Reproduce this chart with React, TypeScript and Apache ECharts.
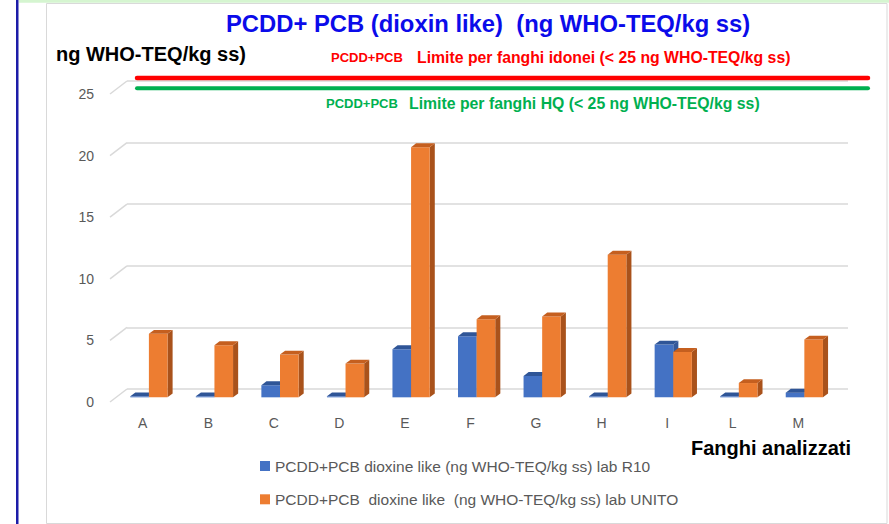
import React, { useEffect, useRef } from "react";
import * as echarts from "echarts";

const categories = ["A", "B", "C", "D", "E", "F", "G", "H", "I", "L", "M"];
const r10Values = [0.08, 0.08, 0.98, 0.08, 3.9, 4.96, 1.73, 0.08, 4.28, 0.08, 0.38];
const unitoValues = [5.15, 4.23, 3.47, 2.74, 20.3, 6.34, 6.56, 11.58, 3.68, 1.16, 4.69];
const yTicks = [0, 5, 10, 15, 20, 25];
const limitIdonei = [25];
const limitHQ = [25];
const seriesNames = [
  "PCDD+PCB dioxine like (ng WHO-TEQ/kg ss) lab R10",
  "PCDD+PCB  dioxine like  (ng WHO-TEQ/kg ss) lab UNITO",
];

const DX = 17;
const DY = -13;
const FONT = "'Liberation Sans', Arial, sans-serif";

function barRenderer(side: number, front: string, top: string, sideColor: string) {
  return (params: any, api: any) => {
    const idx = api.value(0);
    const v = api.value(1);
    const base = api.coord([idx, 0]);
    const tip = api.coord([idx, v]);
    const band = api.size([1, 0])[0];
    const w = band * 0.284;
    const ox = DX * 0.36;
    const oy = DY * 0.36;
    const cx = DX * 0.3;
    const cy = DY * 0.3;
    const x0 = base[0] + ox + (side < 0 ? -w : 0);
    const x1 = x0 + w;
    const yb = base[1] + oy;
    const yt = tip[1] + oy;
    return {
      type: "group",
      children: [
        {
          type: "polygon",
          shape: { points: [[x1, yt], [x1 + cx, yt + cy], [x1 + cx, yb + cy], [x1, yb]] },
          style: { fill: sideColor },
        },
        {
          type: "rect",
          shape: { x: x0, y: yt, width: w, height: yb - yt },
          style: { fill: front },
        },
        {
          type: "polygon",
          shape: { points: [[x0, yt], [x1, yt], [x1 + cx, yt + cy], [x0 + cx, yt + cy]] },
          style: { fill: top },
        },
      ],
    };
  };
}

function limitRenderer(color: string, dy: number, width: number) {
  return (params: any, api: any) => {
    const y = api.coord([0, api.value(1)])[1] + dy;
    const cs = params.coordSys;
    return {
      type: "line",
      shape: { x1: cs.x + 10, y1: y, x2: cs.x + cs.width + 20, y2: y },
      style: { stroke: color, lineWidth: width, lineCap: "round" },
    };
  };
}

export default function App() {
  const ref = useRef<HTMLDivElement>(null);
  useEffect(() => {
    if (!ref.current) return;
    const chart = echarts.init(ref.current, undefined, { renderer: "svg" });
    const option: any = {
      animation: false,
      backgroundColor: "#ffffff",
      title: {
        text: "PCDD+ PCB (dioxin like)  (ng WHO-TEQ/kg ss)",
        left: 226,
        top: 11,
        padding: 0,
        textStyle: { fontSize: 23.8, fontWeight: "bold", color: "#0b0bea", fontFamily: FONT },
      },
      legend: {
        orient: "vertical",
        left: 260,
        top: 457.5,
        padding: 0,
        itemWidth: 10,
        itemHeight: 10,
        itemGap: 16.3,
        icon: "rect",
        data: seriesNames,
        textStyle: { fontSize: 15.5, color: "#595959", fontFamily: FONT, lineHeight: 17 },
      },
      grid: [
        { left: 127, right: 41, top: 81, bottom: 135 },
        { left: 110, right: 58, top: 94, bottom: 122 },
      ],
      xAxis: [
        { type: "category", gridIndex: 0, data: categories, show: false },
        {
          type: "category",
          gridIndex: 1,
          data: categories,
          axisLine: { show: false },
          axisTick: { show: false },
          axisLabel: { margin: 14, fontSize: 14, color: "#595959", fontFamily: FONT },
        },
      ],
      yAxis: [
        {
          type: "value",
          gridIndex: 0,
          min: 0,
          max: 25,
          interval: 5,
          axisLabel: { show: false },
          axisLine: { show: false },
          axisTick: { show: false },
          splitLine: { lineStyle: { color: "#d9d9d9", width: 1.5 } },
        },
        {
          type: "value",
          gridIndex: 1,
          min: 0,
          max: 25,
          interval: 5,
          axisLine: { show: false },
          axisTick: { show: false },
          splitLine: { show: false },
          axisLabel: { margin: 16, fontSize: 14, color: "#595959", fontFamily: FONT },
        },
      ],
      series: [
        {
          type: "custom",
          name: "ticks",
          xAxisIndex: 1,
          yAxisIndex: 1,
          silent: true,
          clip: false,
          data: yTicks.map((v) => [0, v]),
          encode: { x: 0, y: 1 },
          renderItem: (params: any, api: any) => {
            const p = api.coord([0, api.value(1)]);
            const band = api.size([1, 0])[0];
            const left = p[0] - band / 2;
            return {
              type: "line",
              shape: { x1: left, y1: p[1], x2: left + DX, y2: p[1] + DY },
              style: { stroke: "#d9d9d9", lineWidth: 1.5 },
            };
          },
        },
        {
          type: "custom",
          name: seriesNames[0],
          xAxisIndex: 1,
          yAxisIndex: 1,
          clip: false,
          itemStyle: { color: "#4472c4" },
          data: r10Values.map((v, i) => [i, v]),
          encode: { x: 0, y: 1 },
          renderItem: barRenderer(-1, "#4472c4", "#2f5597", "#34589a"),
        },
        {
          type: "custom",
          name: seriesNames[1],
          xAxisIndex: 1,
          yAxisIndex: 1,
          clip: false,
          itemStyle: { color: "#ed7d31" },
          data: unitoValues.map((v, i) => [i, v]),
          encode: { x: 0, y: 1 },
          renderItem: barRenderer(1, "#ed7d31", "#c55f1f", "#a9521b"),
        },
        {
          type: "custom",
          name: "limite idonei",
          xAxisIndex: 0,
          yAxisIndex: 0,
          silent: true,
          clip: false,
          z: 5,
          data: limitIdonei.map((v) => [0, v]),
          encode: { x: 0, y: 1 },
          renderItem: limitRenderer("#ff0000", -3, 4.5),
        },
        {
          type: "custom",
          name: "limite HQ",
          xAxisIndex: 0,
          yAxisIndex: 0,
          silent: true,
          clip: false,
          z: 5,
          data: limitHQ.map((v) => [0, v]),
          encode: { x: 0, y: 1 },
          renderItem: limitRenderer("#00b050", 7.3, 4),
        },
      ],
      graphic: [
        { type: "rect", z: -10, shape: { x: 19, y: 0, width: 870, height: 2.7 }, style: { fill: "#d5f5d0" } },
        { type: "rect", z: -10, shape: { x: 16, y: 0, width: 2.5, height: 524 }, style: { fill: "#1c1ca8" } },
        {
          type: "rect",
          z: -10,
          shape: { x: 46.5, y: 3.5, width: 840.5, height: 520 },
          style: { fill: "none", stroke: "#d9d9d9", lineWidth: 1 },
        },
        {
          type: "text",
          x: 56,
          y: 54,
          style: { text: "ng WHO-TEQ/kg ss)", fill: "#000", fontSize: 20, fontWeight: "bold", fontFamily: FONT, verticalAlign: "middle" },
        },
        {
          type: "text",
          x: 331,
          y: 57,
          style: { text: "PCDD+PCB", fill: "#ff0000", fontSize: 13, fontWeight: "bold", fontFamily: FONT, verticalAlign: "middle" },
        },
        {
          type: "text",
          x: 417,
          y: 57,
          style: { text: "Limite per fanghi idonei (< 25 ng WHO-TEQ/kg ss)", fill: "#ff0000", fontSize: 15.8, fontWeight: "bold", fontFamily: FONT, verticalAlign: "middle" },
        },
        {
          type: "text",
          x: 326,
          y: 103.5,
          style: { text: "PCDD+PCB", fill: "#00b050", fontSize: 13, fontWeight: "bold", fontFamily: FONT, verticalAlign: "middle" },
        },
        {
          type: "text",
          x: 409,
          y: 103.5,
          style: { text: "Limite per fanghi HQ (< 25 ng WHO-TEQ/kg ss)", fill: "#00b050", fontSize: 15.8, fontWeight: "bold", fontFamily: FONT, verticalAlign: "middle" },
        },
        {
          type: "text",
          x: 691,
          y: 448,
          style: { text: "Fanghi analizzati", fill: "#000", fontSize: 20, fontWeight: "bold", fontFamily: FONT, verticalAlign: "middle" },
        },
      ],
    };
    chart.setOption(option);
    return () => chart.dispose();
  }, []);
  return (
    <div
      ref={ref}
      style={{ position: "fixed", left: 0, top: 0, width: 889, height: 524, background: "#fff" }}
    />
  );
}
